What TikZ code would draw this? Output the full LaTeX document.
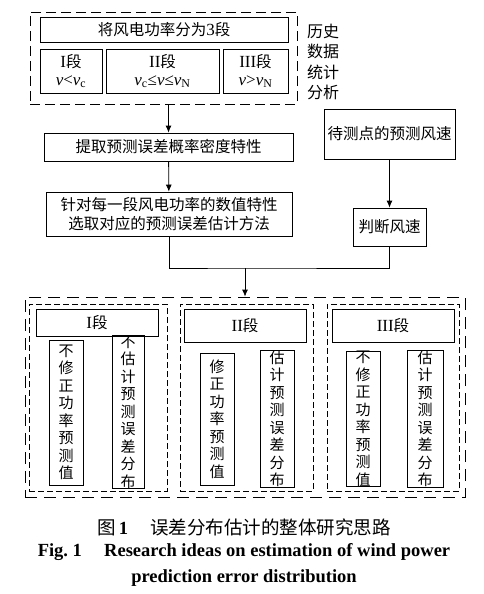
\documentclass[tikz,border=0pt]{standalone}
\usepackage{fontspec}
\setmainfont{Liberation Serif}
\newfontfamily\cjk{Noto Sans CJK SC}
\usetikzlibrary{positioning,arrows.meta}

\newcommand{\lat}[1]{{\rmfamily\fontsize{17}{19}\selectfont #1}}

\begin{document}
\begin{tikzpicture}[x=1pt, y=-1pt, >={Latex[length=7pt,width=6pt]},
    box/.style={draw, rectangle, line width=0.8pt, inner sep=0pt, align=center, font=\cjk\fontsize{15.5}{19}\selectfont},
    vbox/.style={box, font=\cjk\fontsize{15}{17.5}\selectfont},
    group/.style={draw, rectangle, line width=0.8pt, inner sep=0pt, dash pattern=on 6pt off 3pt},
    line/.style={line width=0.8pt}]
\useasboundingbox (0,0) rectangle (483,594);

% historical statistics
\node[group, dash pattern=on 10pt off 5pt, minimum width=267pt, minimum height=92pt] (hist) at (163.5,58) {};
\node[box, minimum width=248pt, minimum height=25pt] (split) at (164,29.5) {将风电功率分为\lat{3}段};
\node[box, minimum width=62pt, minimum height=44pt] (seg1) at (71,71) {\lat{I}段\\[-1pt]\lat{\textit{v}<\textit{v}\textsubscript{c}}};
\node[box, minimum width=113pt, minimum height=44pt] (seg2) at (162.5,71) {\lat{II}段\\[-1pt]\lat{\textit{v}\textsubscript{c}≤\textit{v}≤\textit{v}\textsubscript{N}}};
\node[box, minimum width=65pt, minimum height=44pt] (seg3) at (255.5,71) {\lat{III}段\\[-1pt]\lat{\textit{v}>\textit{v}\textsubscript{N}}};
\node[align=center, inner sep=0pt, font=\cjk\fontsize{16}{20.5}\selectfont] (histlbl) at (323,62) {历史\\数据\\统计\\分析};

% error features and method
\node[box, minimum width=249pt, minimum height=28pt] (extract) at (168.5,147) {提取预测误差概率密度特性};
\node[box, minimum width=246pt, minimum height=44pt] (method) at (169,214) {针对每一段风电功率的数值特性\\选取对应的预测误差估计方法};

% wind speed to be tested
\node[box, minimum width=131pt, minimum height=50pt] (forecast) at (389.5,134) {待测点的预测风速};
\node[box, minimum width=73pt, minimum height=38pt] (judge) at (389.5,227) {判断风速};

% estimation per segment
\node[group, dash pattern=on 12pt off 7pt, minimum width=440pt, minimum height=200pt] (all) at (245,397) {};
\node[group, minimum width=138pt, minimum height=187pt] (grp1) at (98,397.5) {};
\node[group, minimum width=133pt, minimum height=187pt] (grp2) at (246.5,397.5) {};
\node[group, minimum width=132pt, minimum height=187pt] (grp3) at (393,397.5) {};

\node[box, minimum width=122pt, minimum height=27pt] (title1) at (97,322.5) {\lat{I}段};
\node[box, minimum width=122pt, minimum height=33pt] (title2) at (245,325.5) {\lat{II}段};
\node[box, minimum width=122pt, minimum height=33pt] (title3) at (393,325.5) {\lat{III}段};

\node[vbox, minimum width=34pt, minimum height=145pt] (keep1) at (66,412.5) {不\\修\\正\\功\\率\\预\\测\\值};
\node[vbox, minimum width=32pt, minimum height=146pt] (dist1) at (128,412) {不\\估\\计\\预\\测\\误\\差\\分\\布};
\node[vbox, minimum width=34pt, minimum height=132pt] (fix2) at (217,419) {修\\正\\功\\率\\预\\测\\值};
\node[vbox, minimum width=34pt, minimum height=132pt] (dist2) at (277,419) {估\\计\\预\\测\\误\\差\\分\\布};
\node[vbox, minimum width=34pt, minimum height=132pt] (keep3) at (363,419) {不\\修\\正\\功\\率\\预\\测\\值};
\node[vbox, minimum width=36pt, minimum height=132pt] (dist3) at (425,419) {估\\计\\预\\测\\误\\差\\分\\布};

% connectors
\coordinate (join) at (245,268);
\draw[line, ->] (extract.north |- hist.south) -- (extract.north);
\draw[line, ->] (extract) -- (method);
\draw[line, ->] (forecast) -- (judge);
\draw[line] (method.south) |- (join) -| (judge.south);
\draw[line, ->] (join) -- (all.north);

% caption
\node[inner sep=0pt, font=\cjk\fontsize{18.5}{20}\selectfont] (capcn) at (244,527) {图\,{\rmfamily\bfseries 1}\hspace{1.2em}误差分布估计的整体研究思路};
\node[inner sep=0pt, align=center, font=\bfseries\fontsize{18.5}{26}\selectfont] (capen) at (244,565) {Fig.\ 1\hspace{1.2em}Research ideas on estimation of wind power\\prediction error distribution};
\end{tikzpicture}
\end{document}
